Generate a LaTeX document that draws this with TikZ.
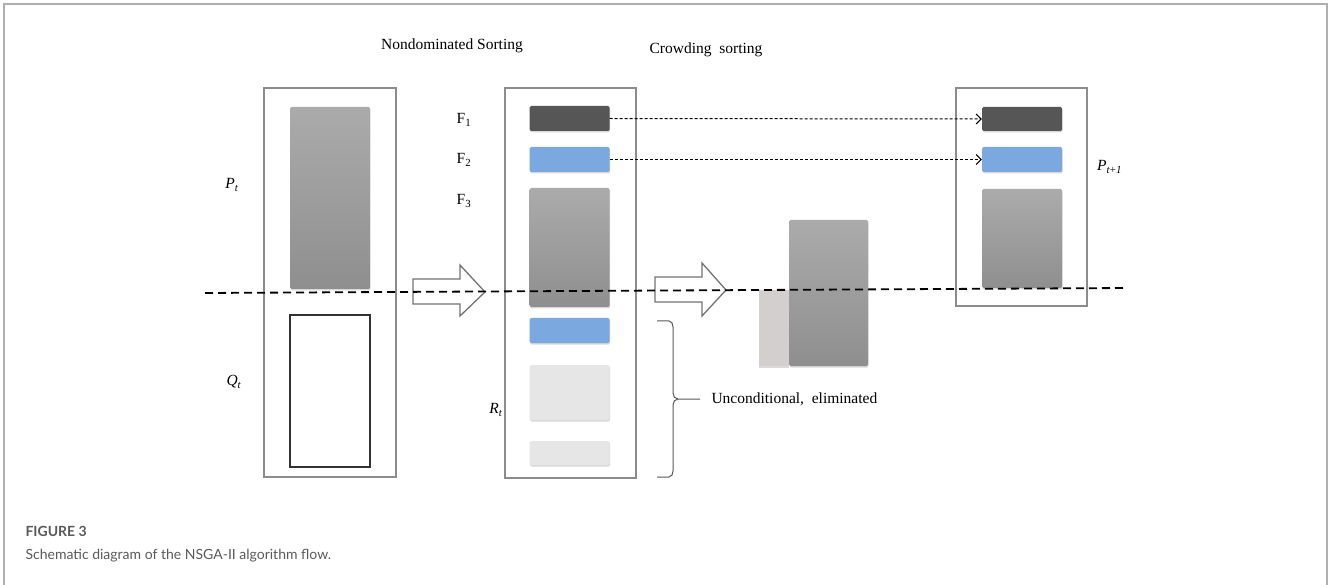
\documentclass[tikz,border=0pt]{standalone}
\usepackage{fontspec}
\setmainfont{Liberation Serif}
\newfontfamily\capfont{Lato}
\usepackage{xcolor}
\definecolor{framegray}{RGB}{175,175,175}
\definecolor{boxgray}{RGB}{140,140,140}
\definecolor{darkbar}{RGB}{86,86,86}
\definecolor{bluebar}{RGB}{122,168,223}
\definecolor{lightbar}{RGB}{230,230,230}
\definecolor{pinkgray}{RGB}{212,207,207}
\definecolor{capgray}{RGB}{90,90,90}
\usepackage{tikz}
\usetikzlibrary{positioning, shadows, arrows.meta}

\begin{document}
\begin{tikzpicture}[x=1pt, y=-1pt, font=\fontsize{15.5}{18}\selectfont,
        container/.style={rectangle, draw=boxgray, line width=1.2pt, fill=white, inner sep=0pt},
        bar/.style={rectangle, rounded corners=1.5pt, inner sep=0pt, minimum width=80pt,
            drop shadow={shadow xshift=0.6pt, shadow yshift=-1.5pt, opacity=0.3}},
        graybar/.style={bar, top color=black!33, bottom color=black!44},
        hollow/.style={draw=black!55, line width=1.3pt, fill=white, line join=miter},
        cut/.style={draw=black, line width=1.8pt, dash pattern=on 8pt off 5pt},
        dotarrow/.style={draw=black, line width=1pt, dash pattern=on 3pt off 2pt, -{Straight Barb[length=5pt, width=10pt]}},
        brace/.style={draw=black!65, line width=1pt},
        captext/.style={anchor=west, text=capgray}]

    \useasboundingbox (0,0) rectangle (1328,585);

    % figure frame
    \draw[framegray, line width=1.5pt] (4,585) -- (4,4) -- (1327,4) -- (1327,585);

    % titles
    \node (nds) at (452,46) {Nondominated Sorting};
    \node (cds) at (706,50) {Crowding\ \ sorting};

    % left population R_t = P_t + Q_t
    \node [container, minimum width=132pt, minimum height=389pt] (rleft) at (330,282.5) {};
    \node [graybar, minimum height=182pt] (pt) at (330,198) {};
    \node [rectangle, draw=black!80, line width=1.2pt, fill=white, minimum width=80pt, minimum height=152pt, inner sep=0pt] (qt) at (330,391) {};
    \node (ptlab) at (232,185) {\textit{P}\textsubscript{\textit{t}}};
    \node (qtlab) at (234,382) {\textit{Q}\textsubscript{\textit{t}}};

    % nondominated fronts
    \node [container, minimum width=131pt, minimum height=390pt] (rmid) at (570.5,283) {};
    \node [bar, fill=darkbar, minimum height=25pt] (f1) at (569.5,118.5) {};
    \node [bar, fill=bluebar, minimum height=25pt] (f2) at (569.5,159.5) {};
    \node [graybar, minimum height=119pt] (f3) at (569.5,247.5) {};
    \node [bar, fill=bluebar, minimum height=25pt] (f4) at (569.5,330.5) {};
    \node [bar, fill=lightbar, minimum height=55pt] (f5) at (569.5,392.5) {};
    \node [bar, fill=lightbar, minimum height=24pt] (f6) at (569.5,453) {};
    \node (f1lab) at (464,120) {F\textsubscript{1}};
    \node (f2lab) at (464,160) {F\textsubscript{2}};
    \node (f3lab) at (464,201) {F\textsubscript{3}};
    \node (rtlab) at (496,410) {\textit{R}\textsubscript{\textit{t}}};

    % crowding sorting of F3
    \node [bar, fill=pinkgray, rounded corners=0pt, minimum width=30pt, minimum height=76pt] (cut3) at (773.5,328) {};
    \node [graybar, minimum width=79pt, minimum height=146pt] (keep3) at (828.5,293) {};

    % new population
    \node [container, minimum width=131pt, minimum height=218pt] (pnext) at (1021.5,197) {};
    \node [bar, fill=darkbar, minimum height=24pt] (n1) at (1022,119) {};
    \node [bar, fill=bluebar, minimum height=25pt] (n2) at (1022,159.5) {};
    \node [graybar, minimum height=99pt] (n3) at (1022,238.5) {};
    \node [anchor=west, inner sep=0pt] (pnlab) at (1097,167) {\textit{P}\textsubscript{\textit{t}+\textit{1}}};

    % hollow arrows
    \draw[hollow] (413,279) -- (460,279) -- (460,265) -- (485,292) -- (460,316) -- (460,304) -- (413,304) -- cycle;
    \draw[hollow] (655,277) -- (702,277) -- (702,263) -- (726,290) -- (702,316) -- (702,302) -- (655,302) -- cycle;

    % fronts carried over
    \path[dotarrow] (f1.east) -- (n1.west);
    \path[dotarrow] (f2.east) -- (n2.west);

    % eliminated fronts
    \node [anchor=west] (elim) at (708,399) {Unconditional,\ \ eliminated};
    \draw[brace] (657,321) -- (669,321) to[out=0, in=90] (673,327) -- (673,393)
        to[out=-90, in=180] (678,399) -- (elim.west -| 700,0);
    \draw[brace] (678,399) to[out=180, in=90] (673,405) -- (673,471)
        to[out=-90, in=0] (669,477) -- (657,477);

    % cut line
    \draw[cut] (205,293) -- (1127,288);

    % caption
    \node [captext, font=\capfont\bfseries\fontsize{14}{17}\selectfont] (fig) at (22,531) {FIGURE 3};
    \node [captext, font=\capfont\fontsize{14}{17}\selectfont] (cap) at (22,556) {Schematic diagram of the NSGA-II algorithm flow.};
\end{tikzpicture}
\end{document}
